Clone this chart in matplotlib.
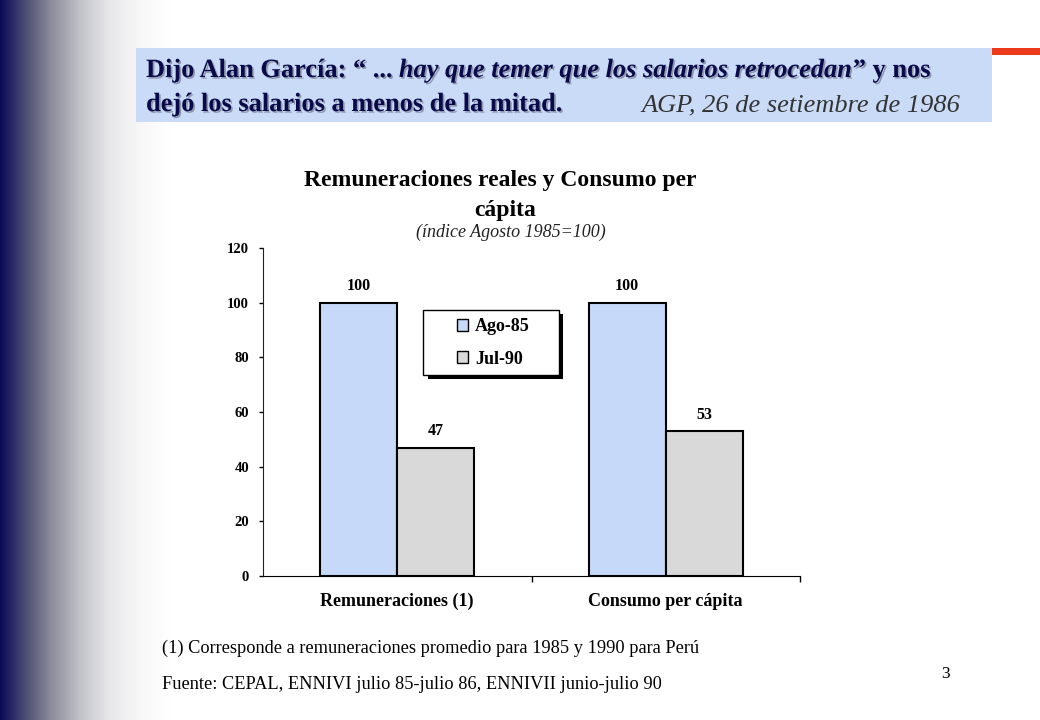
import numpy as np
import matplotlib
matplotlib.use("Agg")
import matplotlib.pyplot as plt
from matplotlib import patheffects
from matplotlib.patches import Rectangle

# ---- data ----
categories = ["Remuneraciones (1)", "Consumo per cápita"]
series_names = ["Ago-85", "Jul-90"]
ago85 = [100, 100]
jul90 = [47, 53]
yticks = [0, 20, 40, 60, 80, 100, 120]

W, H = 1040, 720
SERIF = ["Liberation Serif", "DejaVu Serif"]
plt.rcParams["font.family"] = SERIF

fig = plt.figure(figsize=(W / 100, H / 100), dpi=100)
fig.patch.set_facecolor("white")

def fx(x):
    return x / W

def fy(y):
    return 1 - y / H

# left gradient (navy -> gray -> white)
gw = 170
gax = fig.add_axes([0, 0, fx(gw), 1])
xs = np.linspace(0, gw, 340)
stops_x = [0, 8, 25, 50, 80, 110, 140, 170]
stops_c = np.array([
    [0.04, 0.04, 0.33],
    [0.12, 0.12, 0.38],
    [0.30, 0.30, 0.45],
    [0.54, 0.54, 0.60],
    [0.76, 0.76, 0.79],
    [0.91, 0.91, 0.92],
    [0.97, 0.97, 0.97],
    [1.0, 1.0, 1.0],
])
img = np.stack([np.interp(xs, stops_x, stops_c[:, k]) for k in range(3)], axis=1)
gax.imshow(img[None, :, :], aspect="auto", extent=[0, 1, 0, 1], interpolation="bilinear")
gax.set_axis_off()

# header box
fig.patches.append(Rectangle((fx(136), fy(122)), fx(992) - fx(136), (122 - 48) / H,
                             transform=fig.transFigure, facecolor="#c9dbf7", edgecolor="none", zorder=1))
fig.patches.append(Rectangle((fx(992), fy(55)), fx(1040) - fx(992), 7 / H,
                             transform=fig.transFigure, facecolor="#ee3a1c", edgecolor="none", zorder=1))

shadow = [patheffects.SimplePatchShadow(offset=(1.2, -1.2), shadow_rgbFace="#556", alpha=0.5),
          patheffects.Normal()]
navy = "#0a0a4a"
hsize = 19

renderer = fig.canvas.get_renderer()

def seq_text(x0, y, parts):
    x = x0
    for s, style in parts:
        tx = fig.text(fx(x), fy(y), s, fontsize=hsize, fontweight="bold", fontstyle=style,
                      color=navy, va="baseline", ha="left", path_effects=shadow, zorder=3)
        bb = tx.get_window_extent(renderer=renderer)
        x += bb.width

seq_text(146, 77, [("Dijo Alan García: “ ... ", "normal"),
                   ("hay que temer que los salarios retrocedan", "italic"),
                   ("” y nos", "normal")])
fig.text(fx(146), fy(111), "dejó los salarios a menos de la mitad.", fontsize=hsize, fontweight="bold",
         color=navy, va="baseline", ha="left", path_effects=shadow, zorder=3)
fig.text(fx(960), fy(111), "AGP, 26 de setiembre de 1986", fontsize=hsize, fontstyle="italic",
         color="#333333", va="baseline", ha="right", zorder=3)

# chart title
fig.text(fx(500), fy(186), "Remuneraciones reales y Consumo per", fontsize=17, fontweight="bold",
         ha="center", va="baseline", color="black")
fig.text(fx(505), fy(216), "cápita", fontsize=17, fontweight="bold", ha="center", va="baseline")
fig.text(fx(511), fy(237), "(índice Agosto 1985=100)", fontsize=13, fontstyle="italic",
         ha="center", va="baseline", color="#222222")

# axes
ax = fig.add_axes([fx(263), fy(576), fx(800) - fx(263), (576 - 248) / H])
x = np.arange(len(categories))
bw = 0.287
colors = ["#c6d9f8", "#d9d9d9"]
b1 = ax.bar(x - bw / 2, ago85, bw, color=colors[0], edgecolor="black", linewidth=1.5,
            label=series_names[0], zorder=2)
b2 = ax.bar(x + bw / 2, jul90, bw, color=colors[1], edgecolor="black", linewidth=1.5,
            label=series_names[1], zorder=2)
for bars, vals in ((b1, ago85), (b2, jul90)):
    for rect, v in zip(bars, vals):
        ax.annotate(f"{v}", (rect.get_x() + rect.get_width() / 2, v), xytext=(0, 6),
                    textcoords="offset points", ha="center", va="bottom", fontsize=11.5,
                    fontweight="bold")

ax.set_xlim(-0.5, 1.5)
ax.set_ylim(0, 120)
ax.set_yticks(yticks)
ax.set_yticklabels([str(v) for v in yticks], fontsize=10.5, fontweight="bold")
ax.set_xticks([0.5, 1.5])
ax.set_xticklabels(["", ""])
ax.tick_params(axis="x", direction="out", length=4, width=1)
ax.tick_params(axis="y", direction="out", length=3, width=1, pad=7)
for i, c in enumerate(categories):
    ax.text(i, -9.2, c, ha="center", va="center", fontsize=13, fontweight="bold",
            transform=ax.transData)
ax.spines["top"].set_visible(False)
ax.spines["right"].set_visible(False)
ax.spines["left"].set_color("#222222")
ax.spines["bottom"].set_color("black")
ax.set_facecolor("none")

# legend (drawn as a boxed key with shadow, in figure pixel positions)
fig.patches.append(Rectangle((fx(428), fy(379)), fx(563) - fx(428), (379 - 314) / H,
                             transform=fig.transFigure, facecolor="black", edgecolor="none", zorder=4))
fig.patches.append(Rectangle((fx(423), fy(375)), fx(559) - fx(423), (375 - 310) / H,
                             transform=fig.transFigure, facecolor="white", edgecolor="black",
                             linewidth=1.0, zorder=5))
for name, col, yc in zip(series_names, colors, [325, 357]):
    fig.patches.append(Rectangle((fx(457), fy(yc + 6)), fx(468) - fx(457), 12 / H,
                                 transform=fig.transFigure, facecolor=col, edgecolor="black",
                                 linewidth=1.0, zorder=6))
    fig.text(fx(475), fy(yc), name, fontsize=13, fontweight="bold", ha="left", va="center_baseline",
             zorder=6)

# footnotes
fig.text(fx(162), fy(653), "(1) Corresponde a remuneraciones promedio para 1985 y 1990 para Perú",
         fontsize=13.2, ha="left", va="baseline")
fig.text(fx(162), fy(689), "Fuente: CEPAL, ENNIVI julio 85-julio 86, ENNIVII junio-julio 90",
         fontsize=13.2, ha="left", va="baseline")
fig.text(fx(950), fy(678), "3", fontsize=12.5, ha="right", va="baseline")

fig.savefig("out.png", dpi=100)
